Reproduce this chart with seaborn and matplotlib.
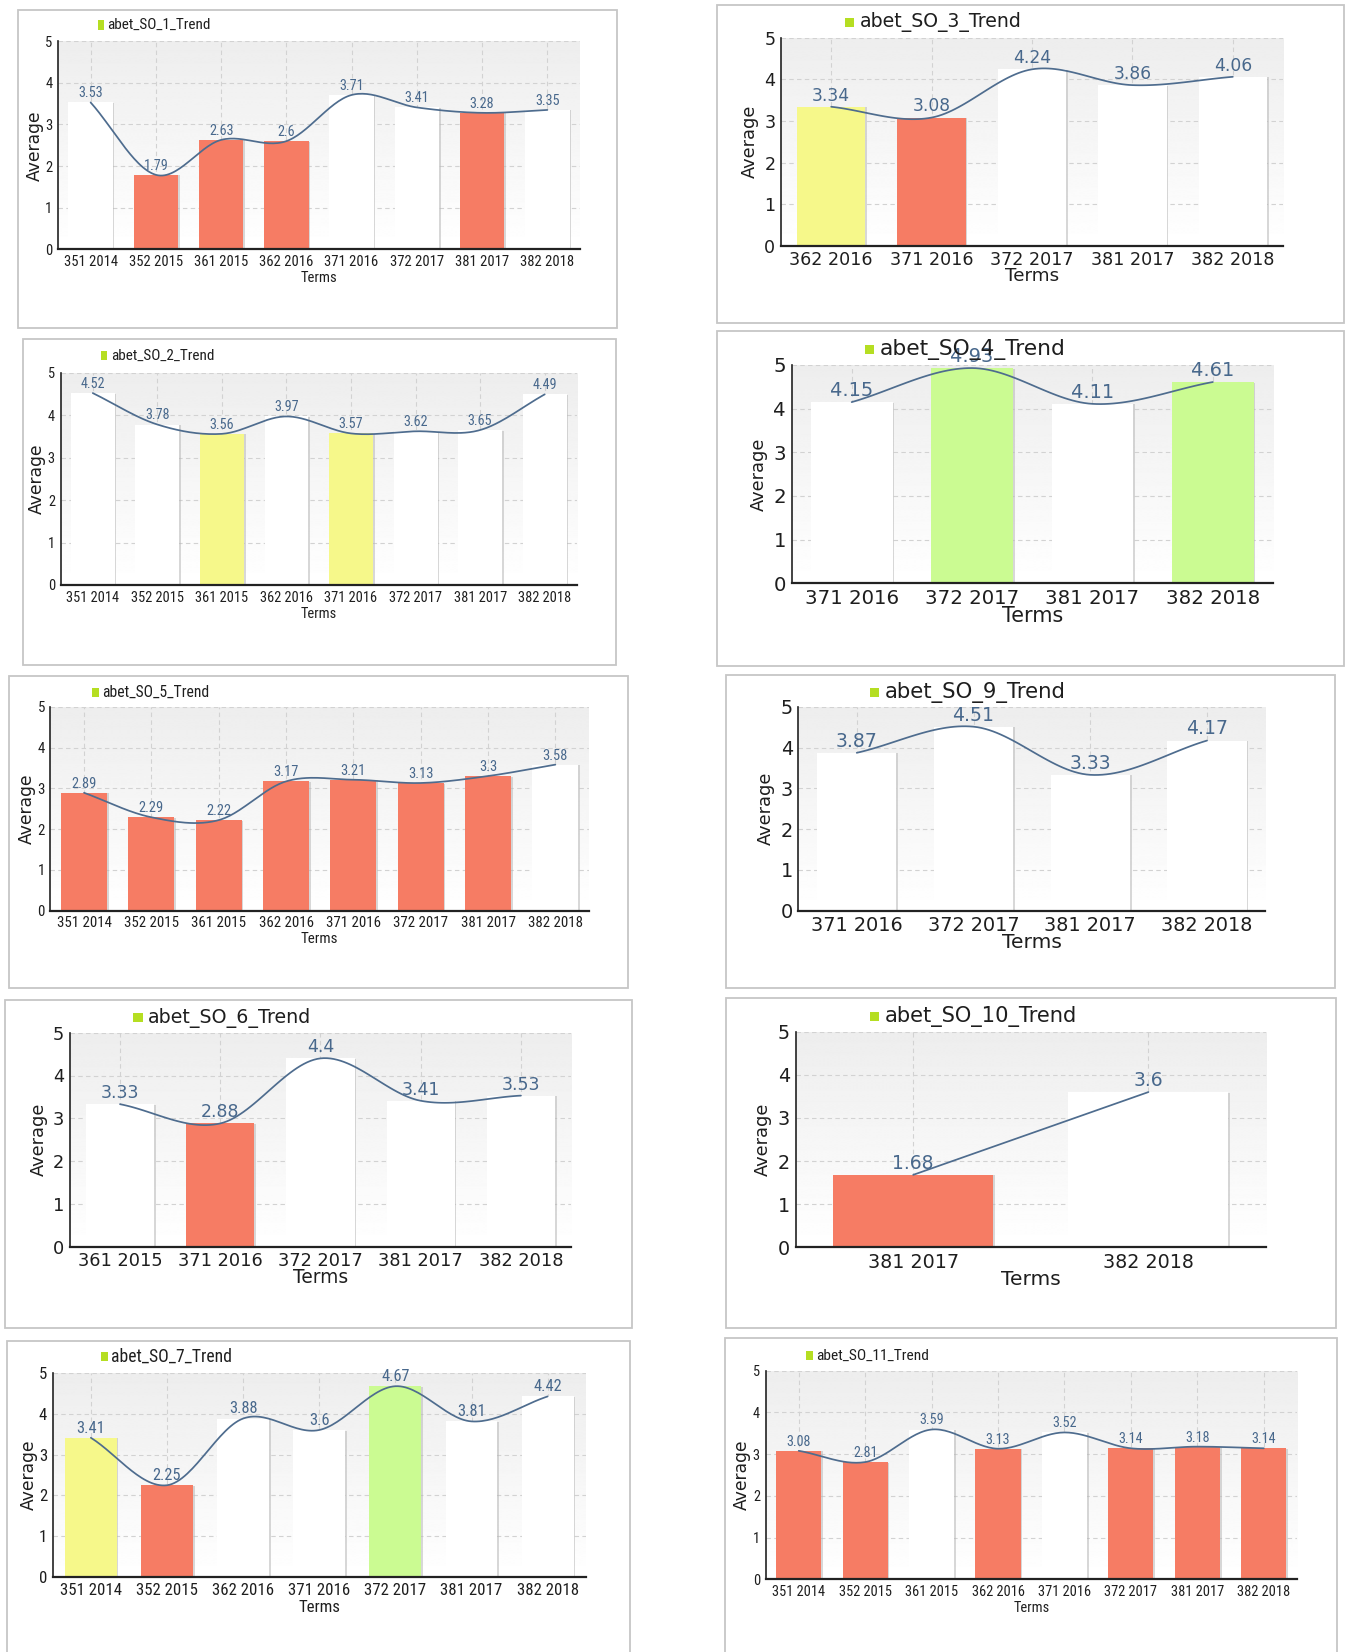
import numpy as np
import pandas as pd
import matplotlib
matplotlib.use("Agg")
import matplotlib.pyplot as plt
import seaborn as sns
from matplotlib import font_manager as fm
from matplotlib.patches import Rectangle
from matplotlib import patheffects as pe
from matplotlib.textpath import TextPath

# ---------------- data ----------------
terms_so1 = ["351 2014", "352 2015", "361 2015", "362 2016", "371 2016", "372 2017", "381 2017", "382 2018"]
values_so1 = [3.53, 1.79, 2.63, 2.6, 3.71, 3.41, 3.28, 3.35]
bands_so1 = ["white", "red", "red", "red", "white", "white", "red", "white"]

terms_so2 = ["351 2014", "352 2015", "361 2015", "362 2016", "371 2016", "372 2017", "381 2017", "382 2018"]
values_so2 = [4.52, 3.78, 3.56, 3.97, 3.57, 3.62, 3.65, 4.49]
bands_so2 = ["white", "white", "yellow", "white", "yellow", "white", "white", "white"]

terms_so3 = ["362 2016", "371 2016", "372 2017", "381 2017", "382 2018"]
values_so3 = [3.34, 3.08, 4.24, 3.86, 4.06]
bands_so3 = ["yellow", "red", "white", "white", "white"]

terms_so4 = ["371 2016", "372 2017", "381 2017", "382 2018"]
values_so4 = [4.15, 4.93, 4.11, 4.61]
bands_so4 = ["white", "green", "white", "green"]

terms_so5 = ["351 2014", "352 2015", "361 2015", "362 2016", "371 2016", "372 2017", "381 2017", "382 2018"]
values_so5 = [2.89, 2.29, 2.22, 3.17, 3.21, 3.13, 3.3, 3.58]
bands_so5 = ["red", "red", "red", "red", "red", "red", "red", "white"]

terms_so9 = ["371 2016", "372 2017", "381 2017", "382 2018"]
values_so9 = [3.87, 4.51, 3.33, 4.17]
bands_so9 = ["white", "white", "white", "white"]

terms_so6 = ["361 2015", "371 2016", "372 2017", "381 2017", "382 2018"]
values_so6 = [3.33, 2.88, 4.4, 3.41, 3.53]
bands_so6 = ["white", "red", "white", "white", "white"]

terms_so10 = ["381 2017", "382 2018"]
values_so10 = [1.68, 3.6]
bands_so10 = ["red", "white"]

terms_so7 = ["351 2014", "352 2015", "362 2016", "371 2016", "372 2017", "381 2017", "382 2018"]
values_so7 = [3.41, 2.25, 3.88, 3.6, 4.67, 3.81, 4.42]
bands_so7 = ["yellow", "red", "white", "white", "green", "white", "white"]

terms_so11 = ["351 2014", "352 2015", "361 2015", "362 2016", "371 2016", "372 2017", "381 2017", "382 2018"]
values_so11 = [3.08, 2.81, 3.59, 3.13, 3.52, 3.14, 3.18, 3.14]
bands_so11 = ["red", "red", "white", "red", "white", "red", "red", "red"]

titles = ["abet_SO_1_Trend", "abet_SO_2_Trend", "abet_SO_3_Trend", "abet_SO_4_Trend",
          "abet_SO_5_Trend", "abet_SO_9_Trend", "abet_SO_6_Trend", "abet_SO_10_Trend",
          "abet_SO_7_Trend", "abet_SO_11_Trend"]

# ---------------- styles ----------------
BAND_COLOR = {"white": "#FFFFFF", "red": "#F67C64", "yellow": "#F6F88A", "green": "#CBFB92"}
LINE_COLOR = "#4E6C8E"
LABEL_COLOR = "#48688C"
LEGEND_SQ = "#B5DE22"
BOX_COLOR = "#C6C6C6"
TEXT_COLOR = "#1E1E1E"

sns.set_style("white")
plt.rcParams["font.family"] = ["DejaVu Sans"]


def find_narrow():
    files = [f for f in fm.fontManager.ttflist]
    prefs = ["LiberationSansNarrow-Regular", "RobotoCondensed-Regular", "NotoSans-Condensed.",
             "NotoSans-Condensed-Regular", "NotoSans-CondensedRegular", "DejaVuSansCondensed.",
             "OpenSans_Condensed-Regular", "OpenSans-CondensedRegular"]
    for key in prefs:
        for f in files:
            if key in f.fname.split("/")[-1]:
                return fm.FontProperties(fname=f.fname)
    for f in files:
        nm = f.fname.split("/")[-1].lower()
        if ("narrow" in nm or ("condensed" in nm and "semi" not in nm and "extra" not in nm)) \
                and f.style == "normal" and f.weight in (400, "normal", "regular"):
            return fm.FontProperties(fname=f.fname)
    return fm.FontProperties(family="DejaVu Sans")


NARROW_FP = find_narrow()
# calibrate: the reference's squeezed labels are ~3.42 em wide for "351 2014"
_w = TextPath((0, 0), "351 2014", prop=NARROW_FP.copy(), size=100).get_extents().width
NARROW_SCALE = float(np.clip(335.0 / _w, 0.8, 1.15))


def fprop(narrow, size):
    if narrow:
        fp = NARROW_FP.copy()
        fp.set_size(size * NARROW_SCALE)
    else:
        fp = fm.FontProperties(family="DejaVu Sans", size=size)
    return fp


def smooth(y, k=30):
    y = np.asarray(y, float)
    n = len(y)
    m = np.empty(n)
    m[0] = y[1] - y[0]
    m[-1] = y[-1] - y[-2]
    if n > 2:
        m[1:-1] = (y[2:] - y[:-2]) / 2.0
    xs, ys = [], []
    for i in range(n - 1):
        t = np.linspace(0, 1, k, endpoint=(i == n - 2))
        h00 = 2 * t**3 - 3 * t**2 + 1
        h10 = t**3 - 2 * t**2 + t
        h01 = -2 * t**3 + 3 * t**2
        h11 = t**3 - t**2
        ys.append(h00 * y[i] + h10 * m[i] + h01 * y[i + 1] + h11 * m[i + 1])
        xs.append(i + t)
    return np.concatenate(xs), np.concatenate(ys)


# layout (pixels in the 1347x1652 canvas)
panels = [
    dict(terms=terms_so1, values=values_so1, bands=bands_so1, title=titles[0],
         box=(18, 10, 617, 328), axes=(58, 580, 41.3, 249.3), sq=(97.6, 25), narrow=True, fs=11.3, tfs=11.7),
    dict(terms=terms_so2, values=values_so2, bands=bands_so2, title=titles[1],
         box=(23, 339, 616, 665), axes=(60.5, 577, 372.7, 585), sq=(100.8, 355.7), narrow=True, fs=11.2, tfs=11.7),
    dict(terms=terms_so3, values=values_so3, bands=bands_so3, title=titles[2],
         box=(717, 5, 1344, 323), axes=(781, 1283, 37.7, 245.7), sq=(845, 22.5), narrow=False, fs=12.6, tfs=13.6),
    dict(terms=terms_so4, values=values_so4, bands=bands_so4, title=titles[3],
         box=(717, 331, 1344, 666), axes=(791.5, 1273, 365, 583.3), sq=(864.8, 349.3), narrow=False, fs=14.2, tfs=15.7),
    dict(terms=terms_so5, values=values_so5, bands=bands_so5, title=titles[4],
         box=(9, 676, 628, 988), axes=(50.4, 589, 706.7, 910.7), sq=(92, 692.3), narrow=True, fs=11.5, tfs=12.1),
    dict(terms=terms_so9, values=values_so9, bands=bands_so9, title=titles[5],
         box=(726, 675, 1335, 988), axes=(798.4, 1265.4, 706.7, 910.7), sq=(870, 692.5), narrow=False, fs=13.9, tfs=15.3),
    dict(terms=terms_so6, values=values_so6, bands=bands_so6, title=titles[6],
         box=(5, 1000, 632, 1328), axes=(69.9, 571, 1032.7, 1246.7), sq=(133.3, 1017.5), narrow=False, fs=12.8, tfs=13.7),
    dict(terms=terms_so10, values=values_so10, bands=bands_so10, title=titles[7],
         box=(726, 998, 1336, 1328), axes=(795.6, 1266, 1031.7, 1247.3), sq=(870, 1016.7), narrow=False, fs=13.8, tfs=15.1),
    dict(terms=terms_so7, values=values_so7, bands=bands_so7, title=titles[8],
         box=(7, 1340.7, 630, 1700), axes=(52.8, 585.7, 1372.7, 1577.3), sq=(101.2, 1356.7), narrow=True, fs=13.0, tfs=13.7),
    dict(terms=terms_so11, values=values_so11, bands=bands_so11, title=titles[9],
         box=(725, 1338, 1337, 1700), axes=(765.5, 1297, 1370.7, 1579.3), sq=(806, 1355.7), narrow=True, fs=11.2, tfs=11.9),
]

W, H = 1347.0, 1652.0
fig = plt.figure(figsize=(W / 100, H / 100), dpi=100)
fig.patch.set_facecolor("white")


def draw_panel(p):
    x0, y0, x1, y1 = p["box"]
    fig.add_artist(Rectangle((x0 / W, 1 - y1 / H), (x1 - x0) / W, (y1 - y0) / H,
                             transform=fig.transFigure, fill=False, ec=BOX_COLOR, lw=1.3))
    L, R, T, B = p["axes"]
    ax = fig.add_axes([L / W, 1 - B / H, (R - L) / W, (B - T) / H])
    ax.set_facecolor("none")
    n = len(p["terms"])
    df = pd.DataFrame({"Terms": p["terms"], "Average": p["values"]})
    pal = [BAND_COLOR[b] for b in p["bands"]]
    sns.barplot(data=df, x="Terms", y="Average", hue="Terms", palette=pal, legend=False,
                width=0.68, saturation=1, errorbar=None, ax=ax, zorder=2, linewidth=0)
    for patch in ax.patches:
        patch.set_path_effects([pe.SimplePatchShadow(offset=(1.2, -0.4), shadow_rgbFace="#b8b8b8", alpha=0.55),
                                pe.Normal()])
    # gradient plot background
    grad = np.linspace(0.93, 1.0, 256).reshape(-1, 1)
    ax.imshow(grad, extent=(-0.5, n - 0.5, 0, 5), aspect="auto", cmap="gray", vmin=0, vmax=1,
              zorder=0, interpolation="bilinear")
    # smooth trend line
    xs, ys = smooth(p["values"])
    sns.lineplot(x=xs, y=ys, sort=False, estimator=None, color=LINE_COLOR, lw=1.25, ax=ax, zorder=3)
    nar = p["narrow"]
    fs = p["fs"]
    for i, v in enumerate(p["values"]):
        ax.annotate(f"{v:g}", (i, v), xytext=(0, 1.5), textcoords="offset points", ha="center", va="bottom",
                    color=LABEL_COLOR, fontproperties=fprop(nar, fs * 0.98), zorder=4)
    ax.set_xlim(-0.5, n - 0.5)
    ax.set_ylim(0, 5)
    ax.set_yticks(range(6))
    ax.set_yticks(np.arange(0.5, 5, 1.0), minor=True)
    ax.set_axisbelow(True)
    ax.grid(True, which="major", color="#D2D2D2", linestyle=(0, (4, 3)), linewidth=0.8)
    ax.tick_params(axis="y", which="major", length=3, width=1, color="#111111", direction="out", pad=1)
    ax.tick_params(axis="y", which="minor", length=2.5, width=1, color="#E01010", direction="out")
    ax.tick_params(axis="x", which="major", length=3.5, width=1, color="#111111", direction="out", pad=0.5)
    for s in ("top", "right"):
        ax.spines[s].set_visible(False)
    ax.spines["left"].set_color("#222222")
    ax.spines["left"].set_linewidth(1.2)
    ax.spines["bottom"].set_color("#222222")
    ax.spines["bottom"].set_linewidth(1.6)
    for t in ax.get_xticklabels() + ax.get_yticklabels():
        t.set_fontproperties(fprop(nar, fs))
        t.set_color(TEXT_COLOR)
    ax.set_xlabel("Terms", fontproperties=fprop(nar, fs * (1.0 if nar else 1.05)),
                  labelpad=1.5 if nar else -1.5, color=TEXT_COLOR)
    ax.set_ylabel("Average", fontproperties=fprop(False, 12.3 if nar else 12.8), labelpad=1 if nar else 4,
                  color=TEXT_COLOR)
    # legend / title
    sx, sy = p["sq"]
    sw, sh = (6.5, 9.5) if nar else (9.5, 9.5)
    fig.add_artist(Rectangle((sx / W, 1 - (sy + sh / 2) / H), sw / W, sh / H, transform=fig.transFigure,
                             fc=LEGEND_SQ, ec="none"))
    fig.text((sx + sw + (3.5 if nar else 5.5)) / W, 1 - sy / H, p["title"], ha="left", va="center",
             fontproperties=fprop(nar, p["tfs"]), color=TEXT_COLOR)


for p in panels:
    draw_panel(p)

fig.savefig("out.png", dpi=100, facecolor="white")
